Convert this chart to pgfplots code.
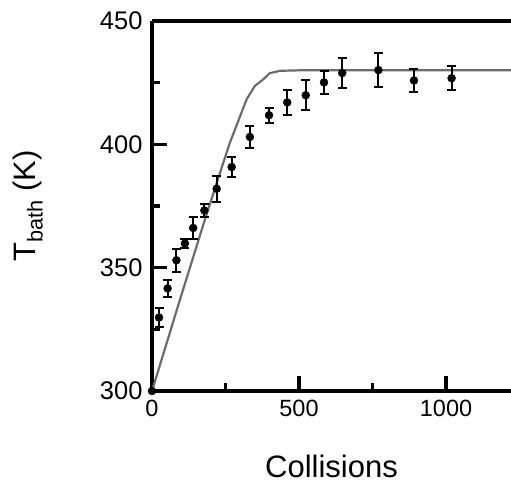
\documentclass[border=0pt]{standalone}
\usepackage{pgfplots}
\pgfplotsset{compat=1.18}
\usepackage{amsmath}
\usepackage{fontspec}
\setmainfont{Liberation Sans}
\definecolor{curvegray}{RGB}{108,108,108}
\begin{document}
\begin{tikzpicture}[x=1pt,y=1pt]
\begin{axis}[
  at={(152pt,96pt)}, anchor=south west,
  scale only axis, width=359pt, height=370pt,
  xmin=0, xmax=1221, ymin=300, ymax=450,
  axis x line=box, axis y line=left,
  axis line style={line width=3.8pt,-},
  xtick={0,500,1000}, minor xtick={250,750},
  ytick={300,350,400,450}, minor ytick={325,375,425},
  xtick pos=lower, ytick pos=left,
  tick align=inside,
  major tick length=15pt, minor tick length=8pt,
  every tick/.style={line width=3.5pt,black},
  /pgf/number format/assume math mode=true,
  /pgf/number format/set thousands separator={},
  yticklabel style={font=\fontsize{25.5}{25.5}\selectfont, anchor=east, xshift=-6pt},
  xticklabel style={font=\fontsize{23.5}{23.5}\selectfont, anchor=north, yshift=-6pt},
  every axis x label/.style={at={(rel axis cs:0.5,0)}, yshift=-75pt, anchor=center},
  every axis y label/.style={at={(rel axis cs:0,0.5)}, xshift=-124pt, rotate=90, anchor=center},
  label style={font=\fontsize{31}{31}\selectfont},
  xlabel={Collisions},
  ylabel={T$_{\text{bath}}$ (K)},
  clip=false,
]
\addplot[curvegray, line width=2.2pt] coordinates {
 (0,300) (95,337) (180,369.5) (230,388) (265,400.7) (300,411.5) (322,418.3)
 (350,423.7) (380,426.5) (400,428.8) (435,429.8) (500,430) (1221,430)
};
\addplot[black, only marks, mark=*, mark size=4pt,
  error bars/.cd, y dir=both, y explicit,
  error bar style={line width=2pt, black},
  error mark options={rotate=90, mark size=4.5pt, line width=2pt, black}]
 table[x=x, y=y, y error=e] {
x y e
0 300 0
24 329.8 3.8
53 341.6 3.4
83 353.0 4.7
112 359.8 1.7
140 366.1 4.6
178 373.2 2.5
220 382.0 5.2
271 390.8 4.1
333 403.0 4.6
398 411.8 3.0
460 417.0 5.0
523 419.9 6.0
585 425.1 4.5
647 428.9 6.2
770 430.1 6.9
891 425.9 4.6
1019 426.8 4.8
};
\end{axis}
\pgfresetboundingbox
\path (0,0) rectangle (511pt,487pt);
\end{tikzpicture}
\end{document}
